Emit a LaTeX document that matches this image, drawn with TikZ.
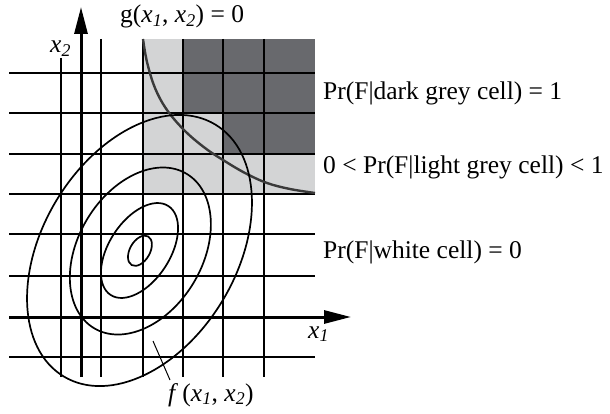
\documentclass[tikz,border=0pt]{standalone}
\usepackage{fontspec}
\setmainfont{Liberation Serif}
\usetikzlibrary{arrows.meta}
\definecolor{lightcell}{HTML}{D3D4D5}
\definecolor{darkcell}{HTML}{68696D}
\definecolor{limitcol}{HTML}{3A3A3A}
\newcommand{\xa}{\textit{x}\textsubscript{\textit{1}}}
\newcommand{\xb}{\textit{x}\textsubscript{\textit{2}}}
\begin{document}
\begin{tikzpicture}[x=1pt,y=-1pt,
  gridline/.style={line width=2pt,black},
  axisline/.style={line width=3pt,black,-{Triangle[length=27pt,width=13pt]}},
  contour/.style={line width=1.7pt,black},
  lbl/.style={inner sep=0pt,font=\fontsize{25.5}{30}\selectfont},
  ]
\useasboundingbox (0,0) rectangle (610,414);
% shaded cells
\fill[lightcell] (143,39) rectangle (315,194);
\fill[darkcell] (183,39) rectangle (315,113);
\fill[darkcell] (223,113) rectangle (315,154);
% horizontal grid lines
\foreach \yy in {73,113,154,194,234,276,357}
  \draw[gridline] (9,\yy) -- (315,\yy);
% vertical grid lines
\draw[gridline] (61,58) -- (61,377);
\foreach \xx in {101,143,183,223,264}
  \draw[gridline] (\xx,39) -- (\xx,377);
% limit state curve
\draw[line width=2.4pt,limitcol] plot[smooth,tension=0.6] coordinates
  {(143,39) (147,62) (155,88) (167,110) (185,131) (205,148) (223,160) (245,173) (267,183) (290,189) (315,193)};
% axes
\coordinate (x1s) at (9,317);
\coordinate (x1e) at (351,317);
\coordinate (x2s) at (81,377);
\coordinate (x2e) at (81,7);
\draw[axisline] (x1s) -- (x1e);
\draw[axisline] (x2s) -- (x2e);
% contours
\coordinate (c) at (139.5,250.5);
\draw[contour,rotate around={59:(c)}] (c) ellipse (147pt and 97pt);
\draw[contour,rotate around={59:(c)}] (139.5,251.5) ellipse (90pt and 62pt);
\draw[contour,rotate around={57:(c)}] (c) ellipse (53pt and 30.5pt);
\draw[contour,rotate around={60:(c)}] (139.5,251) ellipse (16.5pt and 10pt);
% labels
\node[lbl,anchor=base west] (glabel) at (120,23) {g(\xa, \xb) = 0};
\node[lbl,anchor=base west] (x2label) at (50,53) {\xb};
\node[lbl,anchor=base west] (x1label) at (308,338) {\xa};
\node[lbl,anchor=base west] (flabel) at (168,401) {\textit{f}\,(\xa, \xb)};
\node[lbl,anchor=base west] (pdark) at (323,100) {Pr(F|dark grey cell) = 1};
\node[lbl,anchor=base west] (plight) at (323,174) {0 < Pr(F|light grey cell) < 1};
\node[lbl,anchor=base west] (pwhite) at (323,258) {Pr(F|white cell) = 0};
% leader
\coordinate (leadA) at (153,341);
\coordinate (leadB) at (170,380);
\draw[line width=1pt] (leadA) -- (leadB);
\end{tikzpicture}
\end{document}
